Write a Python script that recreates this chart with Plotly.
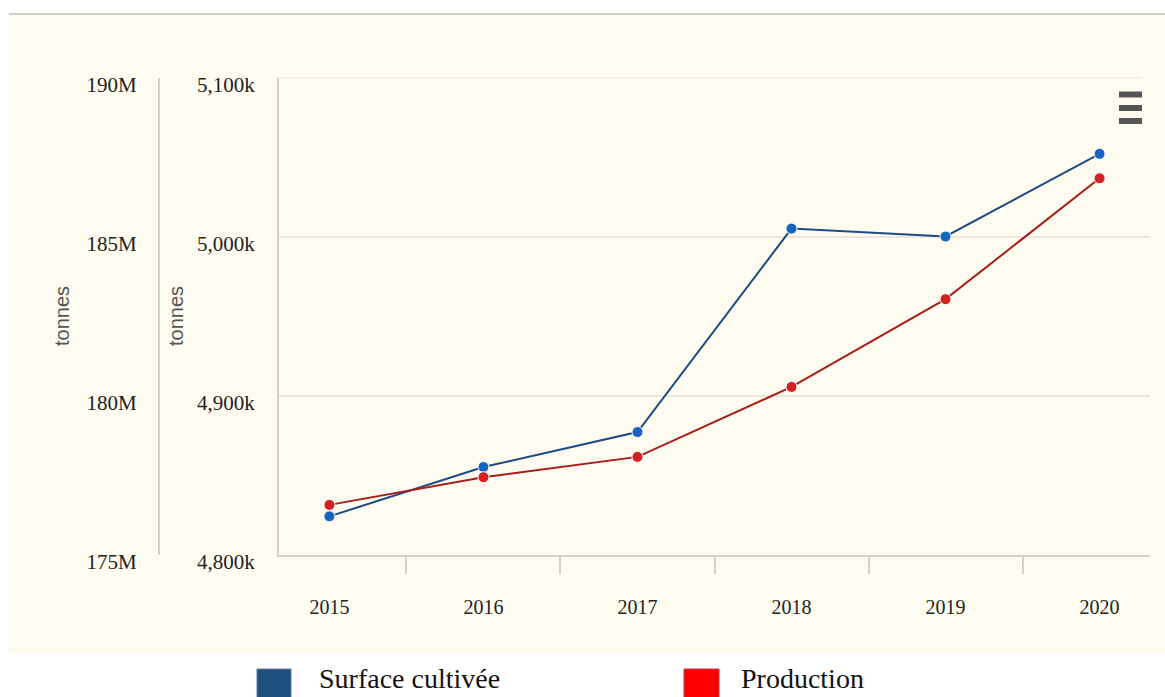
import plotly.graph_objects as go

# ---- data ----
years = ["2015", "2016", "2017", "2018", "2019", "2020"]
surface = [4824000, 4855000, 4877000, 5005000, 5000000, 5052000]
production = [176.56e6, 177.43e6, 178.07e6, 180.27e6, 183.03e6, 186.83e6]

inner_tickvals = [4800000, 4900000, 5000000, 5100000]
inner_ticktext = ["4,800k", "4,900k", "5,000k", "5,100k"]
outer_tickvals = [175e6, 180e6, 185e6, 190e6]
outer_ticktext = ["175M", "180M", "185M", "190M"]

series_names = ["Surface cultivée", "Production"]
axis_title = "tonnes"

W, H = 1165, 697


def px(x):
    return x / W


def py(y):
    return (H - y) / H


BG = "#fefcf0"
AXIS_LINE = "#d8d0c4"
GRID = "#f0e6dc"
TICK_FONT = dict(family="Liberation Serif", size=21, color="#222222")

fig = go.Figure()

fig.add_trace(go.Scatter(
    x=years, y=surface, name=series_names[0], mode="lines+markers",
    line=dict(color="#1c4a82", width=2),
    marker=dict(color="#1565c0", size=11, line=dict(color="white", width=1)),
    yaxis="y", showlegend=False,
))
fig.add_trace(go.Scatter(
    x=years, y=production, name=series_names[1], mode="lines+markers",
    line=dict(color="#a81c1c", width=2),
    marker=dict(color="#d42020", size=11, line=dict(color="white", width=1)),
    yaxis="y2", showlegend=False,
))

fig.update_layout(
    width=W, height=H,
    margin=dict(l=0, r=0, t=0, b=0, autoexpand=False),
    paper_bgcolor="white",
    plot_bgcolor="rgba(0,0,0,0)",
    xaxis=dict(
        domain=[px(279), px(1150)],
        type="category",
        tickson="boundaries",
        ticks="outside", ticklen=17, tickcolor=AXIS_LINE, tickwidth=2,
        showline=True, linecolor=AXIS_LINE, linewidth=2,
        showgrid=False,
        tickfont=dict(family="Liberation Serif", size=20, color="#222222"),
        ticklabelstandoff=33,
        automargin=False,
        anchor="y",
    ),
    yaxis=dict(
        domain=[py(554.5), py(77.5)],
        range=[4800000, 5100000],
        tickvals=inner_tickvals, ticktext=inner_ticktext,
        showline=True, linecolor=AXIS_LINE, linewidth=2,
        showgrid=True, gridcolor=GRID, gridwidth=2,
        zeroline=False,
        ticks="", ticklabelstandoff=18,
        ticklabelshift=7,
        tickfont=TICK_FONT,
        automargin=False,
        anchor="x",
    ),
    yaxis2=dict(
        range=[175e6, 190e6],
        tickvals=outer_tickvals, ticktext=outer_ticktext,
        overlaying="y", side="left", anchor="free", position=px(159),
        showline=True, linecolor=AXIS_LINE, linewidth=2,
        showgrid=False, zeroline=False,
        ticks="", ticklabelstandoff=17,
        ticklabelshift=7,
        tickfont=TICK_FONT,
        automargin=False,
    ),
)

shapes = []
# cream chart background
shapes.append(dict(type="rect", xref="paper", yref="paper",
                   x0=px(9), x1=1, y0=py(654), y1=py(14),
                   fillcolor=BG, line=dict(width=0), layer="below"))
# top border
shapes.append(dict(type="line", xref="paper", yref="paper",
                   x0=px(9), x1=1, y0=py(14), y1=py(14),
                   line=dict(color="#d6cfc3", width=2), layer="below"))
# top gridline (at the highest inner tick)
shapes.append(dict(type="line", xref="x domain", yref="y",
                   x0=0, x1=0.99, y0=inner_tickvals[-1], y1=inner_tickvals[-1],
                   line=dict(color=GRID, width=2), layer="below"))
# hamburger menu
for yy in (94.5, 108, 121):
    shapes.append(dict(type="line", xref="paper", yref="paper",
                       x0=px(1119), x1=px(1142), y0=py(yy), y1=py(yy),
                       line=dict(color="#555555", width=6)))
# legend squares
shapes.append(dict(type="rect", xref="paper", yref="paper",
                   x0=px(257), x1=px(291), y0=py(703), y1=py(669),
                   fillcolor="#1f4f7d", line=dict(color="#5d7fa3", width=1)))
shapes.append(dict(type="rect", xref="paper", yref="paper",
                   x0=px(684), x1=px(719), y0=py(703), y1=py(669),
                   fillcolor="#ff0000", line=dict(color="#c04040", width=1)))

annotations = []
for xc in (62, 176):
    annotations.append(dict(text=axis_title, xref="paper", yref="paper",
                            x=px(xc), y=py(316), showarrow=False, textangle=-90,
                            xanchor="center", yanchor="middle",
                            font=dict(family="Liberation Sans", size=20, color="#555555")))
annotations.append(dict(text=series_names[0], xref="paper", yref="paper",
                        x=px(317), y=py(678), showarrow=False,
                        xanchor="left", yanchor="middle",
                        font=dict(family="Liberation Serif", size=28, color="#111111")))
annotations.append(dict(text=series_names[1], xref="paper", yref="paper",
                        x=px(739), y=py(678), showarrow=False,
                        xanchor="left", yanchor="middle",
                        font=dict(family="Liberation Serif", size=28, color="#111111")))

fig.update_layout(shapes=shapes, annotations=annotations)

fig.write_html("out.html")
